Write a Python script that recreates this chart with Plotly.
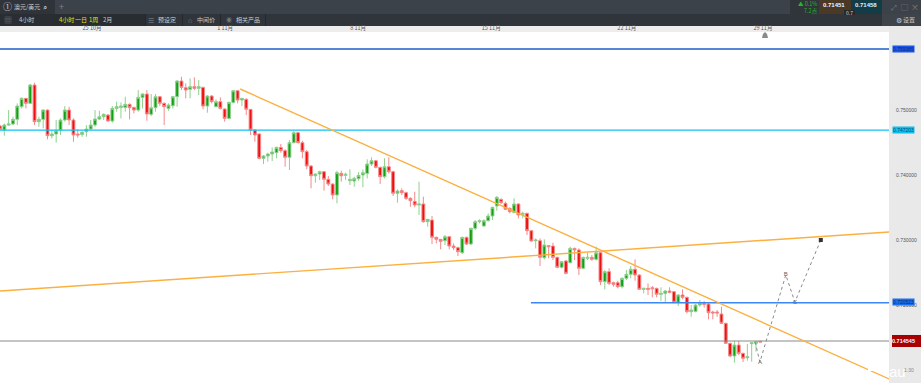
import plotly.graph_objects as go

open_ = [.74753,.74692,.74769,.74784,.74856,.75051,.75179,.75102,.75384,.74820,.74856,.74999,.74604,.74630,.74692,.74846,.74999,.74846,.74630,.74625,
.74666,.74707,.74769,.74861,.74897,.74922,.74830,.75025,.75040,.75040,.75087,.75040,.74999,.75194,.75246,.74933,.75035,.75205,.75102,.75025,
.75066,.75205,.75446,.75343,.75318,.75359,.75333,.75348,.75061,.75215,.75051,.75128,.75015,.74871,.75117,.75297,.75153,.75164,.75010,.74692,
.74631,.74256,.74292,.74323,.74343,.74425,.74374,.74272,.74497,.74651,.74497,.74359,.74138,.73989,.74015,.74051,.73933,.73861,.73692,.74025,
.73995,.73912,.73907,.73943,.74000,.74025,.74169,.74220,.74118,.73974,.74128,.74051,.73718,.73759,.73728,.73641,.73594,.73538,.73554,.73282,
.73307,.73041,.73010,.72989,.73051,.72907,.72882,.72805,.73041,.72938,.73179,.73282,.73215,.73297,.73369,.73523,.73625,.73564,.73487,.73425,
.73554,.73395,.73410,.73143,.72989,.72989,.72728,.72913,.72907,.72733,.72579,.72677,.72651,.72871,.72846,.72564,.72718,.72733,.72702,.72805,
.72359,.72513,.72343,.72343,.72282,.72410,.72472,.72549,.72461,.72241,.72256,.72266,.72256,.72164,.72179,.72215,.72205,.72041,.72154,.72118,
.71897,.71902,.72000,.72025,.72015,.71892,.71892,.71861,.71718,.71410,.71215,.71384,.71256,.71189,.71405,.71410,.71441]
high = [.74769,.74794,.74999,.74897,.75102,.75194,.75184,.75400,.75420,.74897,.75010,.75010,.74692,.74846,.74871,.75061,.75051,.74871,.74702,.74676,
.74769,.74846,.74999,.74989,.74948,.74938,.75061,.75128,.75117,.75205,.75102,.75051,.75307,.75256,.75307,.75246,.75246,.75215,.75117,.75102,
.75215,.75461,.75512,.75410,.75487,.75502,.75461,.75359,.75230,.75230,.75164,.75194,.75025,.75128,.75307,.75307,.75184,.75179,.75010,.74702,
.74641,.74307,.74343,.74425,.74436,.74477,.74395,.74538,.74682,.74667,.74528,.74384,.74154,.74025,.74066,.74061,.73984,.73871,.74066,.74066,
.74036,.74087,.73974,.74046,.74087,.74241,.74272,.74231,.74128,.74256,.74272,.74066,.73779,.73794,.73743,.73656,.73743,.73897,.73667,.73318,
.73369,.73051,.73010,.73077,.73061,.72948,.72897,.73051,.73051,.73189,.73307,.73318,.73318,.73410,.73513,.73677,.73641,.73590,.73502,.73641,
.73564,.73436,.73420,.73154,.73025,.73025,.73010,.72923,.72959,.72743,.72677,.72692,.72897,.72882,.72871,.72743,.72805,.72769,.72897,.72815,
.72538,.72564,.72359,.72374,.72425,.72538,.72600,.72702,.72472,.72266,.72333,.72292,.72266,.72272,.72231,.72272,.72215,.72169,.72241,.72128,
.72000,.72015,.72077,.72061,.72036,.71912,.71923,.71974,.71728,.71420,.71451,.71446,.71266,.71400,.71420,.71446,.71451]
low = [.74692,.74604,.74758,.74769,.74769,.75025,.75025,.75097,.74769,.74743,.74717,.74548,.74563,.74497,.74615,.74820,.74769,.74512,.74574,.74589,
.74589,.74702,.74743,.74846,.74846,.74820,.74804,.74974,.74871,.74974,.74856,.74948,.74974,.75025,.74835,.74907,.74974,.75061,.74769,.74989,
.75025,.75051,.75307,.75179,.75179,.75307,.75230,.75010,.74958,.75102,.75040,.75010,.74820,.74856,.75102,.75102,.75061,.74922,.74615,.74512,
.74241,.74169,.74205,.74215,.74256,.74343,.74128,.74077,.74487,.74487,.74256,.74087,.73794,.73882,.73923,.73759,.73830,.73625,.73564,.73897,
.73923,.73846,.73820,.73912,.73810,.73948,.74138,.74102,.73861,.73948,.74025,.73676,.73574,.73692,.73615,.73512,.73502,.73384,.73266,.73205,
.72938,.72948,.72856,.72923,.72856,.72846,.72753,.72784,.72923,.72923,.73154,.73256,.73205,.73282,.73307,.73451,.73554,.73461,.73410,.73410,
.73333,.73333,.73077,.72974,.72871,.72599,.72702,.72718,.72692,.72564,.72564,.72471,.72641,.72692,.72461,.72548,.72692,.72682,.72682,.72307,
.72241,.72307,.72282,.72256,.72256,.72384,.72410,.72374,.72231,.72179,.72154,.72118,.72118,.72061,.72041,.72179,.72025,.71985,.72087,.71871,
.71820,.71887,.71974,.71959,.71779,.71779,.71820,.71707,.71400,.71194,.71112,.71230,.71122,.71143,.71128,.71282,.71425]
close = [.74702,.74769,.74784,.74856,.75061,.75179,.75102,.75384,.74820,.74856,.74999,.74604,.74630,.74681,.74846,.74999,.74846,.74615,.74615,.74656,
.74707,.74769,.74861,.74897,.74933,.74830,.75025,.75051,.75061,.75087,.75035,.74999,.75194,.75246,.74938,.75035,.75205,.75102,.75051,.75076,
.75205,.75446,.75348,.75307,.75359,.75333,.75359,.75061,.75215,.75128,.75128,.75025,.74871,.75117,.75297,.75153,.75179,.75010,.74692,.74615,
.74256,.74292,.74323,.74354,.74425,.74374,.74272,.74497,.74651,.74497,.74359,.74138,.73989,.74015,.74051,.73933,.73861,.73692,.74036,.73989,
.74010,.73933,.73948,.73995,.74036,.74169,.74220,.74118,.73974,.74128,.74051,.73718,.73753,.73728,.73641,.73605,.73538,.73553,.73282,.73318,
.73041,.73010,.72979,.73051,.72907,.72882,.72820,.73041,.72938,.73179,.73282,.73297,.73297,.73369,.73502,.73656,.73574,.73472,.73436,.73554,
.73385,.73410,.73143,.72984,.73000,.72733,.72923,.72897,.72733,.72579,.72666,.72487,.72871,.72846,.72564,.72733,.72733,.72702,.72805,.72359,
.72513,.72333,.72318,.72282,.72410,.72472,.72549,.72461,.72241,.72256,.72241,.72251,.72164,.72179,.72215,.72195,.72041,.72154,.72118,.71897,
.71923,.72000,.72025,.72010,.71882,.71877,.71877,.71718,.71410,.71215,.71384,.71256,.71179,.71205,.71420,.71436,.71430]
candle_index = list(range(len(close)))

tick_index = [21.3, 52.1, 82.9, 113.7, 145.1, 176.6]
tick_labels = ["25 10月", "1 11月", "8 11月", "15 11月", "22 11月", "29 11月"]
price_ticks = [0.75, 0.74, 0.73, 0.72]
price_tick_labels = ["0.750000", "0.740000", "0.730000", "0.720000"]

falling_x, falling_y = [55.6, 205.8], [0.75323, 0.70862]
rising_x, rising_y = [0, 205.8], [0.72215, 0.73123]
level_top, level_cyan, level_blue, level_last = 0.759385, 0.74690, 0.72035, 0.71445
level_blue_start = 122.9
wave_x = [174.8, 175.9, 181.9, 184.0, 190.0]
wave_y = [0.71431, 0.71123, 0.72462, 0.72046, 0.73000]
wave_text = ["", "A", "B", "C", ""]

W, H = 921, 383
L, R, T, B = 0, 32, 32, 0
PW, PH = W - L - R, H - T - B
px = lambda x: (x - L) / PW
py = lambda y: 1 - (y - T) / PH

shapes, annos = [], []
def box(x0, y0, x1, y1, color, layer="below"):
    shapes.append(dict(type="rect", xref="paper", yref="paper", x0=px(x0), x1=px(x1), y0=py(y0), y1=py(y1),
                       fillcolor=color, line=dict(width=0), layer=layer))
def text(x, y, s, color="#c8ccd0", size=6, anchor="center", bg=None, font="Noto Sans CJK SC"):
    annos.append(dict(xref="paper", yref="paper", x=px(x), y=py(y), text=s, showarrow=False, xanchor=anchor,
                      yanchor="middle", font=dict(size=size, color=color, family=font), bgcolor=bg, borderpad=0))

# chrome
box(0, 0, W, 14, "#3c4249")
box(0, 14, W, 26, "#30353b")
box(0, 0, 55, 14, "#2f343a")
box(0, 14, 52, 26, "#2a2e33")
box(52, 14, 145, 26, "#292d32")
box(0, 26, W, 32, "#ededed")
box(889, 26, W, H, "#e9e9e9")
box(790, 0, 819, 14, "#2f353b")
box(819, 0, 851, 14, "#4a3a25")
box(851, 0, 882, 14, "#123c46")
box(882, 14, W, 26, "#3f444a")
box(844, 10, 855, 15, "#26292d")
for xs in (145, 182, 220, 265):
    box(xs, 14, xs + 1, 26, "#24282c")

text(7, 7, "①", size=9)
text(27, 7, "澳元/美元")
text(45, 7, "⌕", size=8)
text(61, 7, "+", "#7c8288", 9)
text(8, 20, "▦", "#70767c", 8)
text(26, 20, "4小时")
text(66, 20, "4小时", "#e8e020")
text(81, 20, "一日", "#e8e020")
text(93, 20, "1周", "#e8e020")
text(107, 20, "2月")
text(151, 20, "☰", "#70767c", 7)
text(167, 20, "预设定")
text(190, 20, "⌂", "#70767c", 7)
text(206, 20, "中间价")
text(229, 20, "◉", "#70767c", 6)
text(248, 20, "相关产品")
text(807, 4.5, "▲ 0.1%", "#25b825", 5.5)
text(811, 11, "7.2点", "#25b825", 5.5)
text(834, 5, "<b>0.71451</b>", "#f4f4f4", 6, font="Liberation Sans")
text(866, 5, "<b>0.71458</b>", "#e4eef0", 6, font="Liberation Sans")
text(849, 12, "0.7", "#d0d0d0", 5)
text(894, 7, "⤢", "#7c8288", 7)
text(905, 7, "▢", "#7c8288", 7)
text(915, 7, "×", "#7c8288", 8)
text(899, 20, "⚙", "#c8ccd0", 7)
text(909, 20, "设置")

text(903.5, 49, "0.759385", "#0a2a88", 5, bg="#1a56e8", font="Liberation Sans")
text(903.5, 130, "0.747203", "#0a4a66", 5, bg="#10bff0", font="Liberation Sans")
text(903.5, 302, "0.720523", "#0a2a66", 5, bg="#1a6ff0", font="Liberation Sans")
box(892, 335, W, 347, "#a80000")
text(903.5, 341, "<b>0.714545</b>", "#ffffff", 5.5, font="Liberation Sans")
text(898, 371, "au", "#ffffff", 15, font="Liberation Sans")
text(909, 370, "1:30", "#888888", 5, font="Liberation Sans")
shapes.append(dict(type="path", xref="paper", yref="paper", layer="above", line=dict(width=0), fillcolor="#8a8a8a",
                   path=f"M {px(762)},{py(38)} L {px(768)},{py(38)} L {px(767)},{py(34)} L {px(765)},{py(32)} L {px(763)},{py(34)} Z"))
box(868, 367, 873, 371, "#ffffff", layer="above")

fig = go.Figure()
fig.add_trace(go.Candlestick(x=candle_index, open=open_, high=high, low=low, close=close,
    increasing=dict(line=dict(color="#8fd08f", width=1), fillcolor="#14a014"),
    decreasing=dict(line=dict(color="#f58a8a", width=1), fillcolor="#ee1010"),
    whiskerwidth=0, showlegend=False, hoverinfo="skip"))
xmax = PW / 4.32
for yv, c, x0, lw in ((level_top, "#1c5fc8", 0, 1.4), (level_cyan, "#12c0f4", 0, 1.4), (level_blue, "#3d86f5", level_blue_start, 1.5), (level_last, "#8a8a8a", 0, 1.1)):
    fig.add_trace(go.Scatter(x=[x0, xmax], y=[yv, yv], mode="lines", line=dict(color=c, width=lw), showlegend=False, hoverinfo="skip"))
for xs, ys in ((falling_x, falling_y), (rising_x, rising_y)):
    fig.add_trace(go.Scatter(x=xs, y=ys, mode="lines", line=dict(color="#fbb040", width=1.4), showlegend=False, hoverinfo="skip"))
fig.add_trace(go.Scatter(x=wave_x, y=wave_y, mode="lines+text", text=wave_text, textposition="middle center",
    textfont=dict(size=6, color="#666666", family="Liberation Sans"),
    line=dict(color="#8a8a8a", width=1, dash="3px,3px"), showlegend=False, hoverinfo="skip"))
fig.add_trace(go.Scatter(x=wave_x[-1:], y=wave_y[-1:], mode="markers", marker=dict(symbol="square", size=4, color="#333333"),
    showlegend=False, hoverinfo="skip"))

fig.update_layout(width=W, height=H, margin=dict(l=L, r=R, t=T, b=B), paper_bgcolor="#ffffff", plot_bgcolor="#ffffff",
    shapes=shapes, annotations=annos, showlegend=False, boxgap=0.05,
    xaxis=dict(range=[0, xmax], side="top", showgrid=False, zeroline=False, rangeslider=dict(visible=False),
               tickmode="array", tickvals=tick_index, ticktext=tick_labels, ticks="", showline=False,
               tickfont=dict(size=5.5, color="#555555", family="Noto Sans CJK SC")),
    yaxis=dict(range=[0.708, 0.762], side="right", showgrid=False, zeroline=False, showline=False, tickmode="array",
               tickvals=price_ticks, ticktext=price_tick_labels, ticks="outside", ticklen=5, tickcolor="rgba(0,0,0,0)",
               tickfont=dict(size=5, color="#555555", family="Liberation Sans")))
fig.write_html("out.html", config=dict(displayModeBar=False),
               post_script="document.body.style.margin='0';document.body.style.overflow='hidden';document.documentElement.style.overflow='hidden';")
